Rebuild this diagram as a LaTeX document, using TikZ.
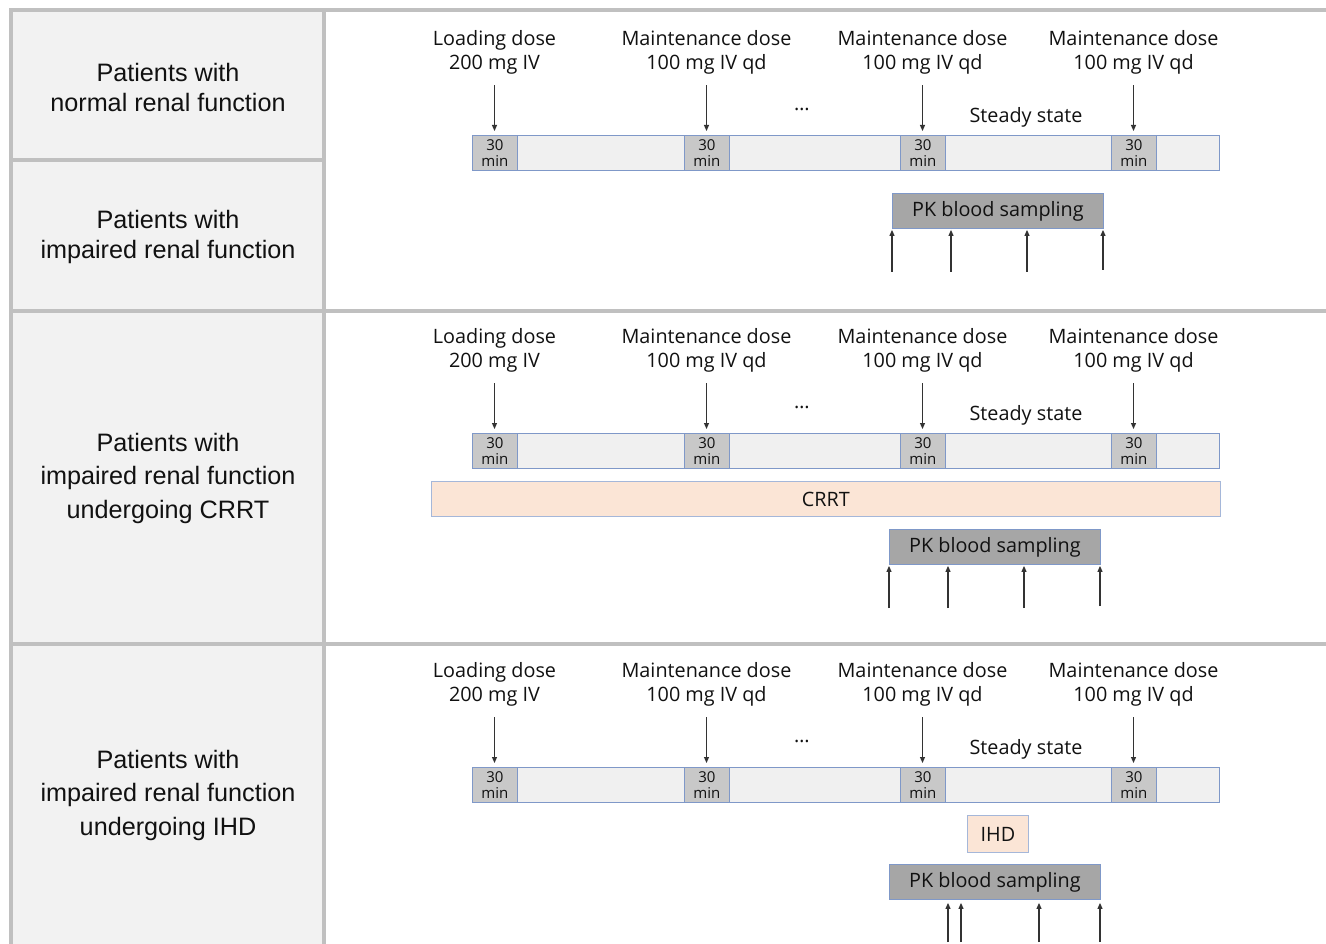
\documentclass[tikz,border=0pt]{standalone}
\usepackage{fontspec}
\setmainfont{Open Sans}
\newfontfamily\arialf{Liberation Sans}
\usetikzlibrary{arrows.meta}
\definecolor{gridgray}{HTML}{C0C0C0}
\definecolor{cellfill}{HTML}{F2F2F2}
\definecolor{barfill}{HTML}{F0F0F0}
\definecolor{barline}{HTML}{7F98C8}
\definecolor{infgray}{HTML}{C8C8C8}
\definecolor{pkgray}{HTML}{A6A6A6}
\definecolor{peach}{HTML}{FBE5D6}
\definecolor{txt}{HTML}{111111}
\tikzset{
  grid/.style={draw=gridgray, line width=4pt},
  lefttext/.style={font=\arialf\fontsize{25.2}{30}\selectfont, align=center, text=txt, inner sep=0pt},
  lefttextb/.style={lefttext, font=\arialf\fontsize{25.2}{33.5}\selectfont},
  dose/.style={font=\fontsize{19.8}{24}\selectfont, align=center, text=txt, inner sep=0pt},
  barbox/.style={draw=barline, fill=barfill, line width=0.9pt, anchor=north west, minimum height=35pt, minimum width=747pt, inner sep=0pt},
  infbox/.style={draw=barline, fill=infgray, line width=0.9pt, anchor=north west, minimum height=35pt, minimum width=45pt, inner sep=0pt, align=center, text=txt, font=\fontsize{15}{16}\selectfont},
  pkbox/.style={draw=barline, fill=pkgray, line width=0.9pt, anchor=north west, minimum height=35pt, minimum width=211pt, inner sep=0pt, text=txt, font=\fontsize{19.8}{22}\selectfont},
  peachbox/.style={draw=barline!70, fill=peach, line width=0.9pt, anchor=north west, minimum height=35pt, inner sep=0pt, text=txt, font=\fontsize{19.8}{22}\selectfont},
  arr/.style={-{Triangle[length=6pt,width=5pt]}, line width=1.1pt, draw=black!80},
}
\newcommand\doserow[2]{%
\begin{scope}[shift={(0,#2)}]
  \node[barbox] (bar#1) at (472,135) {};
  \foreach \k/\bx in {1/472,2/684,3/900,4/1111}
    \node[infbox] (inf#1\k) at (\bx,135) {30\\min};
  \node[dose] (ld#1) at (494.5,52) {Loading dose\\200 mg IV};
  \foreach \k/\cx in {2/706.5,3/922.5,4/1133.5}
    \node[dose] (md#1\k) at (\cx,52) {Maintenance dose\\100 mg IV qd};
  \node[dose] (dots#1) at (802,109) {…};
  \node[dose] (ss#1) at (1026,117) {Steady state};
  \draw[arr] ([yshift=-11pt]ld#1.south) -- ([yshift=4pt]ld#1.south |- inf#11.north);
  \foreach \k in {2,3,4}
    \draw[arr] ([yshift=-11pt]md#1\k.south) -- ([yshift=4pt]md#1\k.south |- inf#1\k.north);
\end{scope}}
\begin{document}
\begin{tikzpicture}[x=1pt,y=-1pt]
\useasboundingbox (0,0) rectangle (1326,944);
\fill[white] (0,0) rectangle (1326,944);
% table
\fill[cellfill] (11,10) rectangle (324,944);
\draw[grid] (11,944) -- (11,10) -- (1326,10);
\draw[grid] (324,10) -- (324,944);
\draw[grid] (11,160) -- (324,160);
\draw[grid] (11,311) -- (1326,311);
\draw[grid] (11,644) -- (1326,644);
% group labels
\node[lefttext] (g1) at (168,87) {Patients with\\normal renal function};
\node[lefttext] (g2) at (168,237) {Patients with\\impaired renal function};
\node[lefttextb] (g3) at (168,478) {Patients with\\impaired renal function\\undergoing CRRT};
\node[lefttextb] (g4) at (168,795) {Patients with\\impaired renal function\\undergoing IHD};
% dose rows
\doserow{1}{0}
\doserow{3}{298}
\doserow{4}{632}
% row 1-2 sampling
\node[pkbox] (pk1) at (892,193) {PK blood sampling};
\foreach \k/\sx/\sy in {1/892/272,2/951/272,3/1027/272,4/1103/270} {
  \coordinate (s1\k) at (\sx,\sy);
  \draw[arr] (s1\k) -- ([yshift=-1pt]s1\k |- pk1.south);
}
% CRRT row
\node[peachbox, minimum width=789pt] (crrt) at (431,481) {CRRT};
\node[pkbox] (pk3) at (889,529) {PK blood sampling};
\foreach \k/\sx/\sy in {1/889/608,2/948/608,3/1024/608,4/1100/606} {
  \coordinate (s3\k) at (\sx,\sy);
  \draw[arr] (s3\k) -- ([yshift=-1pt]s3\k |- pk3.south);
}
% IHD row
\node[peachbox, minimum width=61pt, minimum height=37pt] (ihd) at (967,815) {IHD};
\node[pkbox] (pk4) at (889,864) {PK blood sampling};
\foreach \k/\sx in {1/948,2/961,3/1039,4/1100} {
  \coordinate (s4\k) at (\sx,942);
  \draw[arr] (s4\k) -- ([yshift=-3pt]s4\k |- pk4.south);
}
\end{tikzpicture}
\end{document}
